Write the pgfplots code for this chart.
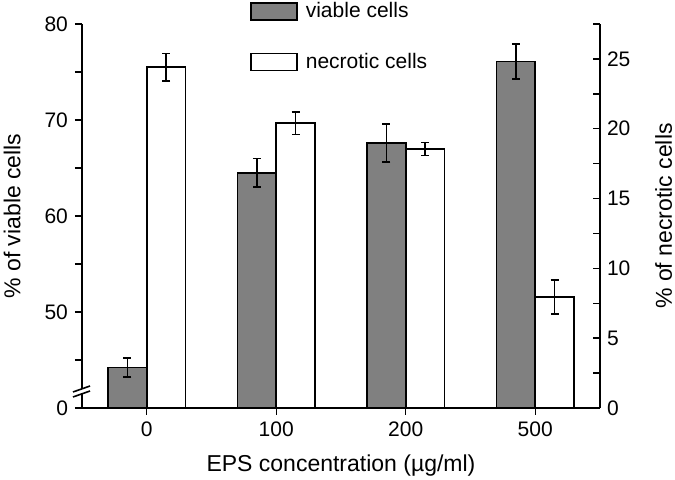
\documentclass[border=0pt]{standalone}
\usepackage{fontspec}
\setmainfont{Liberation Sans}
\usepackage{pgfplots}
\pgfplotsset{compat=1.18}
\definecolor{bargrey}{RGB}{128,128,128}
\newcommand{\lblfont}{\fontsize{11.5}{13}\selectfont}
\newcommand{\tckfont}{\fontsize{10.5}{12}\selectfont}
\begin{document}
\begin{tikzpicture}
\pgfplotsset{
  common/.style={
    width=259pt, height=192pt, scale only axis,
    xmin=-0.5, xmax=3.5,
    ybar, bar width=0.3,
    /pgf/number format/assume math mode=true,
    ticklabel style={font=\tckfont},
    major tick length=3.5pt, minor tick length=3.5pt,
    every tick/.style={black, line width=0.7pt},
    axis line style={line width=0.8pt},
    legend image code/.code={\draw[#1] (0pt,-4.25pt) rectangle (23pt,4.25pt);},
  },
  barstyle/.style={draw=black, line width=0.8pt,
    error bars/.cd, y dir=both, y explicit,
    error bar style={line width=0.8pt, black},
    error mark options={rotate=90, black, mark size=2pt, line width=0.8pt}},
}
\begin{axis}[common, name=ax1,
  axis x line*=bottom, axis y line*=left,
  ymin=40, ymax=80,
  ytick={40,50,60,70,80}, yticklabels={0,50,60,70,80},
  minor ytick={45,55,65,75},
  xtick={0,1,2,3}, xticklabels={0,100,200,500},
  tick align=outside,
  ylabel={\% of viable cells},
  xlabel={EPS concentration (µg/ml)},
  every axis y label/.style={at={(rel axis cs:-0.118,0.5)}, rotate=90, anchor=south, inner sep=0pt, font=\lblfont},
  every axis x label/.style={at={(rel axis cs:0.5,-0.122)}, anchor=north, inner sep=0pt, font=\lblfont},
]
\addplot[fill=bargrey, bar shift=-0.15, barstyle] table[x=x, y=y, y error=e] {
x y e
0 44.2 1.0
1 64.5 1.5
2 67.6 2.0
3 76.1 1.8
};
\end{axis}
\begin{axis}[common,
  axis y line*=right, axis x line=none,
  ymin=0, ymax=27.5,
  ytick={0,5,10,15,20,25},
  minor ytick={2.5,7.5,12.5,17.5,22.5,27.5},
  xtick=\empty,
  tick align=inside,
  ylabel={\% of necrotic cells},
  every axis y label/.style={at={(rel axis cs:1.106,0.5)}, rotate=90, anchor=north, inner sep=0pt, font=\lblfont},
  legend style={at={(rel axis cs:0.324,1.062)}, anchor=north west, draw=none, fill=none,
    inner sep=0pt, row sep=14pt, column sep=3pt,
    nodes={inner sep=1pt, font=\tckfont}},
  legend cell align=left,
]
\addlegendimage{fill=bargrey, draw=black, line width=0.8pt}
\addlegendentry{viable cells}
\addplot[fill=white, bar shift=0.15, barstyle] table[x=x, y=y, y error=e] {
x y e
0 24.4 1.0
1 20.4 0.8
2 18.55 0.47
3 7.95 1.2
};
\addlegendentry{necrotic cells}
\end{axis}
% axis break mark
\fill[white] ([shift={(-4.5pt,5.5pt)}]ax1.south west) -- ([shift={(4pt,8.5pt)}]ax1.south west) -- ([shift={(4pt,11pt)}]ax1.south west) -- ([shift={(-4.5pt,8pt)}]ax1.south west) -- cycle;
\draw[line width=0.8pt] ([shift={(-4.5pt,5.5pt)}]ax1.south west) -- ([shift={(4pt,8.5pt)}]ax1.south west);
\draw[line width=0.8pt] ([shift={(-4.5pt,8pt)}]ax1.south west) -- ([shift={(4pt,11pt)}]ax1.south west);
\pgfresetboundingbox
\path ([shift={(-41pt,-36pt)}]ax1.south west) rectangle ([shift={(37.5pt,12pt)}]ax1.north east);
\end{tikzpicture}
\end{document}
